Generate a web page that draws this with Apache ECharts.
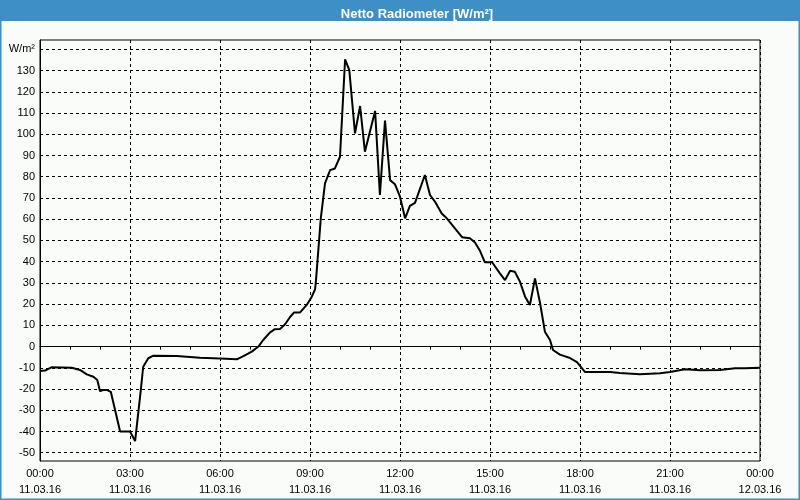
<!DOCTYPE html>
<html>
<head>
<meta charset="utf-8">
<script src="https://cdn.jsdelivr.net/npm/echarts@6/dist/echarts.min.js"></script>
<style>
html,body{margin:0;padding:0;background:#fafcfa;}
#chart{width:800px;height:500px;}
</style>
</head>
<body>
<div id="chart"></div>
<script>
// Time of day in hours (11.03.16 00:00 = 0)
var hours = [0, 0.17, 0.39, 1.06, 1.33, 1.56, 1.78, 1.91, 2.0, 2.11,
  2.24, 2.36, 2.67, 3.0, 3.17, 3.36, 3.44, 3.61, 3.78, 4.56,
  5.33, 6.0, 6.56, 6.78, 7.06, 7.28, 7.44, 7.67, 7.83, 8.0,
  8.17, 8.33, 8.47, 8.67, 8.89, 9.06, 9.17, 9.2, 9.36, 9.5,
  9.67, 9.83, 10.0, 10.17, 10.31, 10.5, 10.67, 10.83, 11.17, 11.33,
  11.5, 11.67, 11.83, 12.0, 12.17, 12.33, 12.5, 12.83, 13.0, 13.17,
  13.39, 13.56, 13.83, 14.07, 14.33, 14.5, 14.67, 14.83, 15.07, 15.33,
  15.5, 15.67, 15.83, 16.0, 16.17, 16.33, 16.5, 16.67, 16.83, 17.0,
  17.1, 17.33, 17.67, 17.9, 18.17, 19.0, 19.33, 20.0, 20.67, 21.0,
  21.5, 22.0, 22.67, 23.17, 23.5, 24.0];
// Net radiation, W/m²
var values = [-11.5, -11.3, -9.7, -10, -11, -13.1, -14.2, -15.8, -21, -20.5,
  -20.5, -21.3, -40, -40, -44.5, -20.5, -9.5, -5.5, -4.3, -4.5,
  -5.3, -5.6, -6, -4.5, -2.4, 0, 3.1, 6.7, 8.2, 8.3,
  10.5, 13.8, 16.1, 16.1, 19.6, 23.5, 27, 31.3, 60.4, 76.9,
  83.1, 83.9, 89.4, 135.3, 130.2, 100.4, 113.3, 91.8, 111, 71.4,
  106.4, 78.4, 76.5, 70.6, 60.4, 66.3, 67.7, 80.8, 71.4, 68.2,
  62.7, 60.4, 55.7, 51.5, 51, 49, 45, 39.7, 39.7, 34.5,
  31.3, 35.7, 35.2, 30.5, 23.5, 19.6, 32.1, 20.4, 7, 3.1,
  -1.6, -3.8, -5.4, -7.3, -12, -12, -12.5, -13, -12.6, -12,
  -10.7, -11.1, -11, -10.2, -10.2, -10];
// Y tick values (140 carries the unit label)
var yTicks = [-50, -40, -30, -20, -10, 0, 10, 20, 30, 40, 50, 60, 70, 80, 90, 100, 110, 120, 130, 140];
var dateLabels = ['11.03.16', '12.03.16'];
var titleText = 'Netto Radiometer [W/m\u00b2]';
var unitText = 'W/m\u00b2';

var data = hours.map(function (h, i) { return [h, values[i]]; });
function pad(n) { return (n < 10 ? '0' : '') + n; }

var font = '"Liberation Sans", Arial, sans-serif';
var chart = echarts.init(document.getElementById('chart'), null, {renderer: 'canvas'});
chart.setOption({
  backgroundColor: '#fafcfa',
  animation: false,
  title: {
    text: titleText,
    left: 412, top: 3, textAlign: 'center',
    textStyle: {color: '#ffffff', fontSize: 13, fontWeight: 'bold', fontFamily: font}
  },
  graphic: [
    {type: 'rect', z: -1, silent: true, shape: {x: 0, y: 0, width: 800, height: 21}, style: {fill: '#3d8fc6'}},
    {type: 'rect', z: 100, silent: true, shape: {x: 0.75, y: 0.75, width: 798.5, height: 498.5}, style: {fill: 'none', stroke: '#3d8fc6', lineWidth: 1.5}}
  ],
  grid: {
    left: 40, right: 40, top: 40, bottom: 39,
    show: true, borderColor: '#000', borderWidth: 1, backgroundColor: 'transparent'
  },
  xAxis: {
    type: 'value', min: 0, max: 24, interval: 3,
    axisLine: {show: true, lineStyle: {color: '#000', width: 1}},
    axisTick: {show: true, length: 3, lineStyle: {color: '#000'}},
    minorTick: {show: true, splitNumber: 3, length: 3, lineStyle: {color: '#000'}},
    splitLine: {show: true, lineStyle: {color: '#000', type: [3, 3], width: 1}},
    axisLabel: {
      margin: 5, fontSize: 11, lineHeight: 16, color: '#000', fontFamily: font,
      showMinLabel: true, showMaxLabel: true,
      formatter: function (v) {
        return pad(v % 24) + ':00\n' + (v < 24 ? dateLabels[0] : dateLabels[1]);
      }
    }
  },
  yAxis: {
    type: 'value', min: -53.9, max: 144.4,
    axisLine: {show: true, lineStyle: {color: '#000', width: 1}},
    axisTick: {show: false, customValues: yTicks},
    splitLine: {show: true, lineStyle: {color: '#000', type: [3, 3], width: 1}},
    axisLabel: {
      customValues: yTicks, margin: 5, fontSize: 11, color: '#000', fontFamily: font,
      formatter: function (v) { return v === 140 ? unitText : String(v); }
    }
  },
  series: [{
    type: 'line', data: data, symbol: 'none', smooth: false,
    lineStyle: {color: '#000', width: 2}
  }]
});
</script>
</body>
</html>
